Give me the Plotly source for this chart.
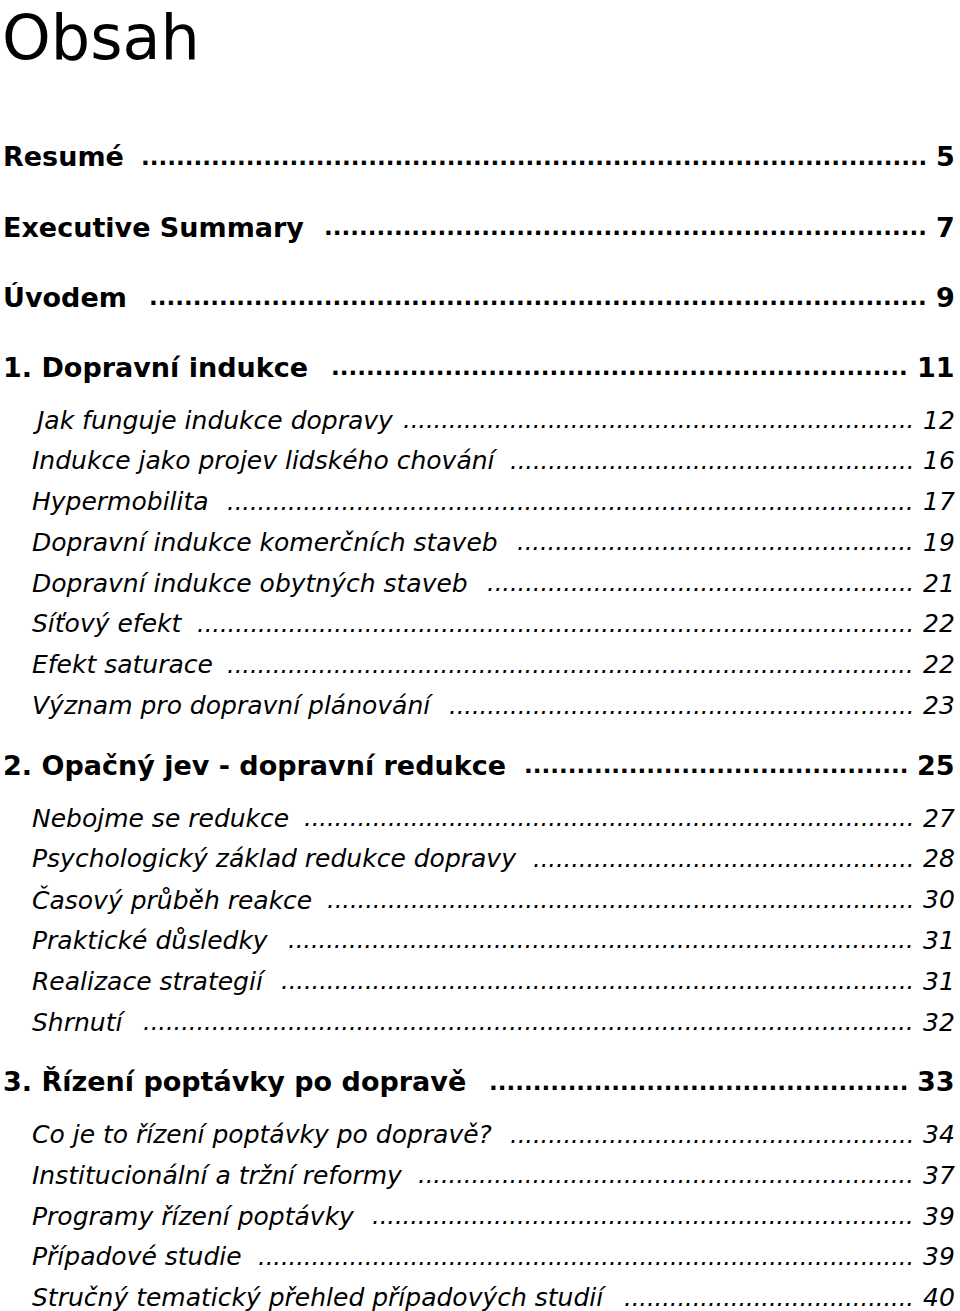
import plotly.graph_objects as go

# ---- data ----
heading = "Obsah"
entries = [
    "Resumé", "Executive Summary", "Úvodem", "1. Dopravní indukce",
    "Jak funguje indukce dopravy", "Indukce jako projev lidského chování",
    "Hypermobilita", "Dopravní indukce komerčních staveb",
    "Dopravní indukce obytných staveb", "Síťový efekt", "Efekt saturace",
    "Význam pro dopravní plánování",
    "2. Opačný jev - dopravní redukce",
    "Nebojme se redukce", "Psychologický základ redukce dopravy",
    "Časový průběh reakce", "Praktické důsledky", "Realizace strategií", "Shrnutí",
    "3. Řízení poptávky po dopravě",
    "Co je to řízení poptávky po dopravě?", "Institucionální a tržní reformy",
    "Programy řízení poptávky", "Případové studie",
    "Stručný tematický přehled případových studií",
]
pages = [5, 7, 9, 11, 12, 16, 17, 19, 21, 22, 22, 23, 25, 27, 28, 30, 31, 31, 32,
         33, 34, 37, 39, 39, 40]
levels = [1, 1, 1, 1, 2, 2, 2, 2, 2, 2, 2, 2, 1, 2, 2, 2, 2, 2, 2, 1, 2, 2, 2, 2, 2]

# ---- layout constants ----
W, H = 960, 1311
FONT = "DejaVu Sans, sans-serif"
first_row = 157
gaps = {(1, 1): 70, (1, 2): 53, (2, 2): 40.8, (2, 1): 59.5}
RIGHT = 956

# approximate glyph advance widths (em) used only to fit the dot leaders
REG = {" ": .318, ".": .318, "-": .361, "?": .531, "a": .613, "b": .635, "c": .55, "d": .635,
       "e": .615, "f": .352, "g": .635, "h": .634, "i": .278, "j": .278, "k": .579, "l": .278,
       "m": .974, "n": .634, "o": .612, "p": .635, "r": .411, "s": .521, "t": .392, "u": .634,
       "v": .592, "w": .818, "x": .592, "y": .592, "z": .525,
       "C": .698, "D": .770, "E": .632, "H": .752, "I": .295, "J": .295, "N": .748, "P": .603,
       "R": .695, "S": .635, "V": .684}
BOLD = {" ": .348, ".": .380, "-": .415, "a": .675, "b": .716, "c": .593, "d": .716, "e": .678,
        "f": .435, "g": .716, "h": .712, "i": .343, "j": .343, "k": .665, "l": .343, "m": 1.042,
        "n": .712, "o": .687, "p": .716, "r": .493, "s": .595, "t": .478, "u": .712, "v": .652,
        "y": .652, "z": .582, "D": .830, "E": .683, "O": .850, "R": .770, "S": .720, "U": .812}
BASE = str.maketrans("áéíýůřčěšťžďúÚŘČŠ", "aeiyurcestzduURCS")


def text_w(s, table, size):
    return sum(table.get(ch, table.get(ch.translate(BASE), 0.636 if ch.isdigit() else 0.6))
               for ch in s) * size


def px(x):
    return x / W


def py(y):
    return 1 - y / H


rows_y = []
y = first_row
for i, lv in enumerate(levels):
    if i > 0:
        y += gaps[(levels[i - 1], lv)]
    rows_y.append(y)

styles = {
    1: dict(size=27, weight="bold", style="normal", dot=23, x0=2, table=BOLD, digit=.696),
    2: dict(size=25, weight=300, style="italic", dot=24, x0=31, table=REG, digit=.636),
}

annotations = [
    dict(text=heading, x=px(1), y=py(0), xref="paper", yref="paper",
         xanchor="left", yanchor="top", showarrow=False, borderpad=0,
         font=dict(family=FONT, size=62, color="#000"))
]

for title, page, lv, yy in zip(entries, pages, levels, rows_y):
    s = styles[lv]
    f = dict(family=FONT, size=s["size"], color="#000", weight=s["weight"], style=s["style"])
    fd = dict(f, size=s["dot"])
    num = str(page)
    num_w = len(num) * s["digit"] * s["size"]
    gap = 0.35 * s["size"]
    dot_w = s["table"]["."] * s["dot"]
    dots_right = RIGHT - num_w - gap
    dots_left = s["x0"] + text_w(title, s["table"], s["size"]) + gap
    n = max(3, int((dots_right - dots_left) / dot_w) - 1)
    annotations.append(dict(text=num, x=px(RIGHT), y=py(yy), xref="paper", yref="paper",
                            xanchor="right", yanchor="middle", showarrow=False, font=f,
                            borderpad=0))
    annotations.append(dict(text="." * n, x=px(dots_right), y=py(yy), xref="paper",
                            yref="paper", xanchor="right", yanchor="middle",
                            showarrow=False, font=fd, borderpad=0))
    annotations.append(dict(text=title, x=px(s["x0"]), y=py(yy), xref="paper", yref="paper",
                            xanchor="left", yanchor="middle", showarrow=False, font=f,
                            borderpad=0))

fig = go.Figure()
fig.update_layout(
    width=W, height=H,
    margin=dict(l=0, r=0, t=0, b=0),
    paper_bgcolor="white", plot_bgcolor="white",
    xaxis=dict(visible=False, range=[0, 1]),
    yaxis=dict(visible=False, range=[0, 1]),
    annotations=annotations,
    showlegend=False,
)
fig.write_html("out.html", config={"displayModeBar": False},
               post_script="document.body.style.margin='0';document.body.style.overflow='hidden';")
